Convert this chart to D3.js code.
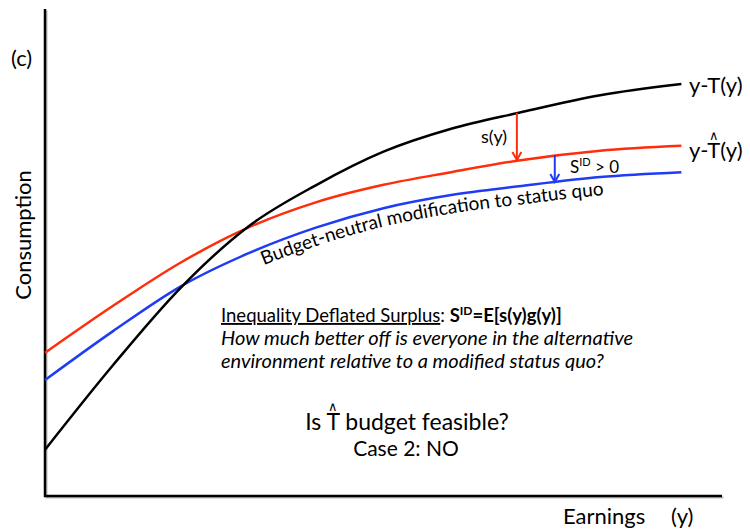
<!DOCTYPE html>
<html>
<head>
<meta charset="utf-8">
<script src="https://cdn.jsdelivr.net/npm/d3@7"></script>
<style>
  body { margin: 0; background: #fff; }
  svg { display: block; }
  text { font-family: Lato, "Open Sans", sans-serif; fill: #000; }
</style>
</head>
<body>
<script>
// Chart data (earnings on x, consumption on y, both in 0-100 units)
const earnings = [0, 10, 20, 30, 40, 50, 60, 70, 82, 94];
const statusQuo = [9.5, 26.8, 42.7, 55.3, 63.8, 70.7, 75.4, 78.7, 82.3, 84.6];   // y-T(y)
const alternative = [29.4, 39.0, 47.9, 55.1, 60.3, 63.9, 66.5, 68.9, 70.9, 71.9]; // y-T^(y)
const modified = [23.8, 33.8, 43.0, 49.8, 55.1, 59.1, 61.8, 63.6, 65.5, 66.5];    // budget-neutral status quo

// vertical arrows: earnings position, start and end consumption
const sArrow = { at: 69.7, from: 78.7, to: 69.0 };
const sidArrow = { at: 75.3, from: 70.0, to: 64.5 };

// Set up the dimensions
const width = 750;
const height = 531;

const svg = d3.select('body')
  .append('svg')
  .attr('width', width)
  .attr('height', height);

// Scales
const x = d3.scaleLinear().domain([0, 100]).range([45, 722]);
const y = d3.scaleLinear().domain([0, 100]).range([496, 9]);

// Axes (with a soft shadow like the original slide)
const axisPath = `M${x(0)},${y(100)}V${y(0)}H${x(100)}`;
svg.append('path')
  .attr('d', axisPath)
  .attr('transform', 'translate(1.5,1.5)')
  .attr('fill', 'none')
  .attr('stroke', '#bbb')
  .attr('stroke-width', 2);
svg.append('path')
  .attr('d', axisPath)
  .attr('fill', 'none')
  .attr('stroke', '#000')
  .attr('stroke-width', 2.5);

// Curves
const line = d3.line()
  .x((d, i) => x(earnings[i]))
  .y(d => y(d))
  .curve(d3.curveMonotoneX);

const series = [
  { values: alternative, color: '#ff2d0a' },
  { values: modified, color: '#1f3cf5' },
  { values: statusQuo, color: '#000' }
];

svg.selectAll('.curve')
  .data(series)
  .enter()
  .append('path')
  .attr('class', 'curve')
  .attr('d', d => line(d.values))
  .attr('fill', 'none')
  .attr('stroke', d => d.color)
  .attr('stroke-width', 2.5);

// Arrows
function arrow(a, color) {
  const ax = x(a.at);
  const y0 = y(a.from);
  const y1 = y(a.to);
  svg.append('line')
    .attr('x1', ax).attr('x2', ax)
    .attr('y1', y0).attr('y2', y1 - 1)
    .attr('stroke', color)
    .attr('stroke-width', 2);
  svg.append('path')
    .attr('d', `M${ax - 4.5},${y1 - 8}L${ax},${y1}L${ax + 4.5},${y1 - 8}`)
    .attr('fill', 'none')
    .attr('stroke', color)
    .attr('stroke-width', 2);
}
arrow(sArrow, '#ff2d0a');
arrow(sidArrow, '#1f3cf5');

// Helper: put a hat over a given character of a text element
function addHat(textSel, charIndex, size, dy) {
  const node = textSel.node();
  const p = node.getStartPositionOfChar(charIndex);
  const e = node.getEndPositionOfChar(charIndex);
  svg.append('text')
    .attr('x', (p.x + e.x) / 2)
    .attr('y', p.y + dy)
    .attr('text-anchor', 'middle')
    .attr('font-size', size)
    .text('\u2227');
}

// Curve labels
svg.append('text')
  .attr('x', 689).attr('y', 93)
  .attr('font-size', 22)
  .text('y-T(y)');

const hatLabel = svg.append('text')
  .attr('x', 689).attr('y', 158)
  .attr('font-size', 22)
  .text('y-T(y)');
addHat(hatLabel, 2, 13, -18);

svg.append('text')
  .attr('x', 481).attr('y', 143)
  .attr('font-size', 18)
  .text('s(y)');

const sid = svg.append('text')
  .attr('x', 570).attr('y', 173)
  .attr('font-size', 17);
sid.append('tspan').text('S');
sid.append('tspan').attr('font-size', 11).attr('dy', -7).text('ID');
sid.append('tspan').attr('dy', 7).text(' > 0');

// Curved label under the blue curve
const offsetLine = d3.line()
  .x((d, i) => x(earnings[i]))
  .y(d => y(d) + 18.5)
  .curve(d3.curveMonotoneX);

const guide = svg.append('path')
  .attr('id', 'budgetPath')
  .attr('d', offsetLine(modified))
  .attr('fill', 'none')
  .attr('stroke', 'none');

const guideNode = guide.node();
let startLen = 0;
while (guideNode.getPointAtLength(startLen).x < 263) startLen += 1;

svg.append('text')
  .attr('font-size', 19)
  .append('textPath')
  .attr('href', '#budgetPath')
  .attr('startOffset', startLen)
  .text('Budget-neutral modification to status quo');

// Axis titles
svg.append('text')
  .attr('x', 11).attr('y', 66)
  .attr('font-size', 22)
  .text('(c)');

svg.append('text')
  .attr('transform', 'translate(31,235) rotate(-90)')
  .attr('text-anchor', 'middle')
  .attr('font-size', 22)
  .text('Consumption');

svg.append('text')
  .attr('x', 563).attr('y', 524)
  .attr('font-size', 22)
  .text('Earnings');

svg.append('text')
  .attr('x', 671).attr('y', 524)
  .attr('font-size', 22)
  .text('(y)');

// Explanation block
const def = svg.append('text')
  .attr('x', 221).attr('y', 322)
  .attr('font-size', 18.5);
def.append('tspan')
  .attr('text-decoration', 'underline')
  .text('Inequality Deflated Surplus');
def.append('tspan').text(': ');
def.append('tspan').attr('font-weight', 'bold').text('S');
def.append('tspan').attr('font-weight', 'bold').attr('font-size', 12).attr('dy', -7).text('ID');
def.append('tspan').attr('font-weight', 'bold').attr('dy', 7).text('=E[s(y)g(y)]');

svg.append('text')
  .attr('x', 221).attr('y', 345)
  .attr('font-size', 20)
  .attr('font-style', 'italic')
  .text('How much better off is everyone in the alternative');

svg.append('text')
  .attr('x', 221).attr('y', 368)
  .attr('font-size', 20)
  .attr('font-style', 'italic')
  .text('environment relative to a modified status quo?');

const question = svg.append('text')
  .attr('x', 407).attr('y', 430)
  .attr('text-anchor', 'middle')
  .attr('font-size', 23)
  .text('Is T budget feasible?');
addHat(question, 3, 13, -19);

svg.append('text')
  .attr('x', 406).attr('y', 456)
  .attr('text-anchor', 'middle')
  .attr('font-size', 21)
  .text('Case 2: NO');
</script>
</body>
</html>
